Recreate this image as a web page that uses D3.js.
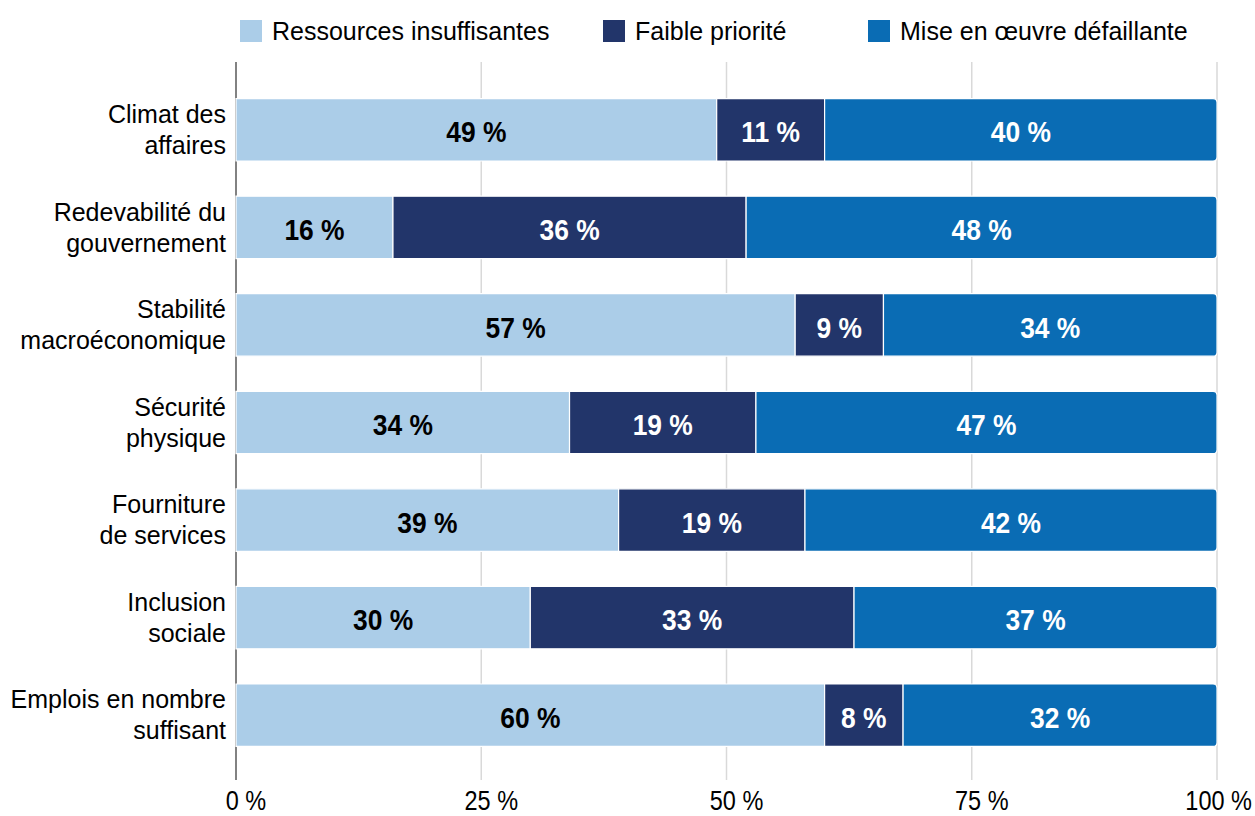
<!DOCTYPE html>
<html>
<head>
<meta charset="utf-8">
<script src="https://cdn.jsdelivr.net/npm/d3@7"></script>
<style>
  html, body { margin: 0; padding: 0; background: #fff; }
  svg { display: block; }
  text { font-family: "Liberation Sans", Arial, sans-serif; fill: #000; }
</style>
</head>
<body>
<svg id="chart" width="1255" height="816"></svg>
<script>
// Categories (two-line labels) from top to bottom
const categories = [
  ["Climat des", "affaires"],
  ["Redevabilité du", "gouvernement"],
  ["Stabilité", "macroéconomique"],
  ["Sécurité", "physique"],
  ["Fourniture", "de services"],
  ["Inclusion", "sociale"],
  ["Emplois en nombre", "suffisant"]
];

const seriesNames = ["Ressources insuffisantes", "Faible priorité", "Mise en œuvre défaillante"];
const ressources = [49, 16, 57, 34, 39, 30, 60];
const faible     = [11, 36,  9, 19, 19, 33,  8];
const miseEnOeuvre = [40, 48, 34, 47, 42, 37, 32];
const tickValues = [0, 25, 50, 75, 100];

const colors = ["#abcde8", "#22356a", "#0a6cb4"];
const labelColors = ["#000", "#fff", "#fff"];

const W = 1255, H = 816;
const left = 236, right = 1217;
const svg = d3.select("#chart");

const rows = categories.map((c, i) => ({
  key: c.join(" "),
  lines: c,
  "0": ressources[i],
  "1": faible[i],
  "2": miseEnOeuvre[i]
}));

const x = d3.scaleLinear().domain([0, 100]).range([left, right]);
const y = d3.scaleBand()
  .domain(rows.map(d => d.key))
  .range([81, 764])
  .paddingInner(0.36)
  .paddingOuter(0.18);

const stack = d3.stack().keys(["0", "1", "2"]);
const layers = stack(rows);

// Vertical gridlines
const gridTop = 62, gridBottom = 780;
svg.append("g").selectAll("line")
  .data(tickValues.filter(t => t > 0))
  .join("line")
  .attr("x1", d => x(d)).attr("x2", d => x(d))
  .attr("y1", gridTop).attr("y2", gridBottom)
  .attr("stroke", "#d9d9d9").attr("stroke-width", 1.5);

// Baseline axis at 0 %
svg.append("line")
  .attr("x1", x(0)).attr("x2", x(0))
  .attr("y1", gridTop).attr("y2", gridBottom)
  .attr("stroke", "#595959").attr("stroke-width", 1.5);

// Condensed text helper: horizontal squeeze around the anchor point
function condensed(sel, cx, cy, sx) {
  sel.attr("transform", `translate(${cx},${cy}) scale(${sx},1)`);
}

// Bars
const r = 4;
const g = svg.append("g");
layers.forEach((layer, li) => {
  const last = li === layers.length - 1;
  g.append("g").selectAll("path")
    .data(layer)
    .join("path")
    .attr("d", d => {
      const x0 = x(d[0]), x1 = x(d[1]);
      const y0 = y(d.data.key), h = y.bandwidth();
      if (!last) return `M${x0},${y0}H${x1}V${y0 + h}H${x0}Z`;
      return `M${x0},${y0}H${x1 - r}Q${x1},${y0} ${x1},${y0 + r}V${y0 + h - r}Q${x1},${y0 + h} ${x1 - r},${y0 + h}H${x0}Z`;
    })
    .attr("fill", colors[li])
    .attr("stroke", "#fff")
    .attr("stroke-width", 1.2);

  g.append("g").selectAll("text")
    .data(layer)
    .join("text")
    .attr("text-anchor", "middle")
    .attr("dy", "0.42em")
    .style("font-size", "30px")
    .style("font-weight", "bold")
    .style("fill", labelColors[li])
    .text(d => `${d[1] - d[0]} %`)
    .each(function (d) {
      condensed(d3.select(this), (x(d[0]) + x(d[1])) / 2, y(d.data.key) + y.bandwidth() / 2, 0.88);
    });
});

// Category labels
const catG = svg.append("g");
rows.forEach(d => {
  const cy = y(d.key) + y.bandwidth() / 2;
  const t = catG.append("text")
    .attr("text-anchor", "end")
    .style("font-size", "25px");
  d.lines.forEach((line, k) => {
    t.append("tspan")
      .attr("x", 226)
      .attr("y", cy + (k - (d.lines.length - 1) / 2) * 31)
      .attr("dy", "0.35em")
      .text(line);
  });
});

// X tick labels
const sxTick = 0.84;
svg.append("g").selectAll("text")
  .data(tickValues)
  .join("text")
  .attr("text-anchor", "middle")
  .style("font-size", "28px")
  .text(d => `${d} %`)
  .each(function (d) {
    const w = this.getComputedTextLength() * sxTick;
    const cx = Math.min(x(d) + 10, W - 3 - w / 2);
    condensed(d3.select(this), cx, 810, sxTick);
  });

// Legend
const legendX = [240, 603, 868];
const leg = svg.append("g");
seriesNames.forEach((name, i) => {
  leg.append("rect")
    .attr("x", legendX[i]).attr("y", 20)
    .attr("width", 22).attr("height", 22)
    .attr("fill", colors[i]);
  leg.append("text")
    .attr("x", legendX[i] + 32).attr("y", 31)
    .attr("dy", "0.36em")
    .style("font-size", "25px")
    .text(name);
});
</script>
</body>
</html>
